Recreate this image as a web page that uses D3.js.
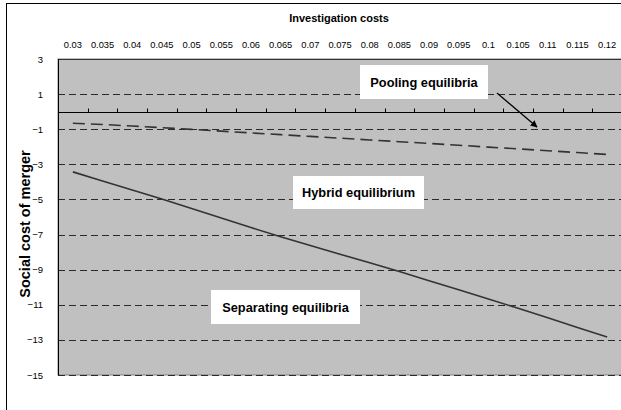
<!DOCTYPE html>
<html>
<head>
<meta charset="utf-8">
<script src="https://cdn.jsdelivr.net/npm/d3@7/dist/d3.min.js"></script>
<style>
  html, body { margin: 0; padding: 0; background: #fff; }
  svg { display: block; font-family: "Liberation Sans", Arial, sans-serif; }
</style>
</head>
<body>
<svg id="chart" width="621" height="410"></svg>
<script>
// Investigation cost levels (category axis)
const costs = ["0.03","0.035","0.04","0.045","0.05","0.055","0.06","0.065","0.07","0.075",
               "0.08","0.085","0.09","0.095","0.1","0.105","0.11","0.115","0.12"];
// Upper boundary (dashed) between pooling and hybrid equilibria
const poolingBound = [-0.66,-0.73,-0.82,-0.91,-1.01,-1.11,-1.21,-1.31,-1.41,-1.51,
                      -1.61,-1.71,-1.81,-1.91,-2.02,-2.12,-2.23,-2.33,-2.44];
// Lower boundary (solid) between hybrid and separating equilibria
const separatingBound = [-3.43,-3.95,-4.46,-4.98,-5.52,-6.06,-6.6,-7.13,-7.62,-8.12,
                         -8.61,-9.11,-9.63,-10.15,-10.67,-11.2,-11.74,-12.29,-12.83];
const yTicks = [3,1,-1,-3,-5,-7,-9,-11,-13,-15];
const regionLabels = [
  {text: "Pooling equilibria",    cx: 424,   cy: 82,    w: 128, h: 34},
  {text: "Hybrid equilibrium",    cx: 358.5, cy: 192.5, w: 131, h: 33},
  {text: "Separating equilibria", cx: 285.5, cy: 307,   w: 149, h: 34}
];

const svg = d3.select("#chart");
const plot = {left: 58, top: 59, right: 622, bottom: 375};

// outer chart frame
svg.append("rect").attr("x", 6.5).attr("y", 3.5).attr("width", 640).attr("height", 420)
  .attr("fill", "#fff").attr("stroke", "#000").attr("stroke-width", 1);

const x = d3.scaleBand().domain(costs).range([plot.left, plot.right]);
const y = d3.scaleLinear().domain([-15, 3]).range([plot.bottom, plot.top]);
const xc = d => x(d) + x.bandwidth() / 2;

// plot background
svg.append("rect").attr("x", plot.left).attr("y", plot.top)
  .attr("width", plot.right - plot.left).attr("height", plot.bottom - plot.top)
  .attr("fill", "#c0c0c0").attr("stroke", "#808080").attr("stroke-width", 1);

// dashed horizontal gridlines
svg.append("g").selectAll("line").data(yTicks.filter(v => v < 3)).join("line")
  .attr("x1", plot.left).attr("x2", plot.right)
  .attr("y1", d => Math.round(y(d)) + 0.5).attr("y2", d => Math.round(y(d)) + 0.5)
  .attr("stroke", "#2a2a2a").attr("stroke-width", 1.1).attr("stroke-dasharray", "7,4");

// top and left plot borders
svg.append("line").attr("x1", plot.left).attr("x2", plot.right)
  .attr("y1", plot.top + 0.5).attr("y2", plot.top + 0.5).attr("stroke", "#333");
svg.append("line").attr("x1", plot.left + 0.5).attr("x2", plot.left + 0.5)
  .attr("y1", plot.top).attr("y2", plot.bottom).attr("stroke", "#000");

// y axis labels
const yAxis = d3.axisLeft(y).tickValues(yTicks).tickSize(0).tickPadding(15).tickFormat(d3.format("d"));
const gy = svg.append("g").attr("transform", `translate(${plot.left},0)`).call(yAxis);
gy.select(".domain").remove();
gy.selectAll("text").attr("font-size", 9.5).attr("fill", "#000")
  .attr("font-family", "Liberation Sans, Arial, sans-serif");

// category axis along zero, ticks between categories pointing up
const zeroY = Math.round(y(0)) + 0.5;
svg.append("line").attr("x1", plot.left).attr("x2", plot.right)
  .attr("y1", zeroY).attr("y2", zeroY).attr("stroke", "#000").attr("stroke-width", 1);
svg.append("g").selectAll("line").data(costs.slice(1)).join("line")
  .attr("x1", d => Math.round(x(d)) + 0.5).attr("x2", d => Math.round(x(d)) + 0.5)
  .attr("y1", zeroY).attr("y2", zeroY - 4).attr("stroke", "#000");

// category labels at the top
const xAxis = d3.axisTop(x).tickSize(0).tickPadding(0);
const gx = svg.append("g").attr("transform", "translate(0,47.5)").call(xAxis);
gx.select(".domain").remove();
gx.selectAll("text").attr("font-size", 9.3).attr("fill", "#000")
  .attr("font-family", "Liberation Sans, Arial, sans-serif");

// axis titles
svg.append("text").attr("x", 339).attr("y", 21.5).attr("text-anchor", "middle")
  .attr("font-size", 11).attr("font-weight", "bold").text("Investigation costs");
svg.append("text").attr("transform", `translate(30,${(plot.top + plot.bottom) / 2 + 7}) rotate(-90)`)
  .attr("text-anchor", "middle").attr("font-size", 14.5).attr("font-weight", "bold")
  .text("Social cost of merger");

// boundary lines
const line = vals => d3.line().x((d, i) => xc(costs[i])).y(d => y(d))(vals);
svg.append("path").attr("d", line(poolingBound)).attr("fill", "none")
  .attr("stroke", "#333").attr("stroke-width", 1.6).attr("stroke-dasharray", "12,6");
svg.append("path").attr("d", line(separatingBound)).attr("fill", "none")
  .attr("stroke", "#333").attr("stroke-width", 1.6);

// region labels in white boxes
const lab = svg.append("g").selectAll("g").data(regionLabels).join("g");
lab.append("rect").attr("x", d => d.cx - d.w / 2).attr("y", d => d.cy - d.h / 2)
  .attr("width", d => d.w).attr("height", d => d.h).attr("fill", "#fff");
lab.append("text").attr("x", d => d.cx).attr("y", d => d.cy + 4.5).attr("text-anchor", "middle")
  .attr("font-size", 12.8).attr("font-weight", "bold").text(d => d.text);

// arrow pointing at the pooling boundary
svg.append("defs").append("marker").attr("id", "head").attr("viewBox", "0 0 10 10")
  .attr("refX", 9).attr("refY", 5).attr("markerWidth", 7).attr("markerHeight", 7)
  .attr("orient", "auto").attr("markerUnits", "userSpaceOnUse")
  .append("path").attr("d", "M0,0L10,5L0,10z").attr("fill", "#000");
svg.append("line").attr("x1", 497).attr("y1", 93).attr("x2", 537).attr("y2", 127)
  .attr("stroke", "#000").attr("stroke-width", 1.3).attr("marker-end", "url(#head)");
</script>
</body>
</html>
